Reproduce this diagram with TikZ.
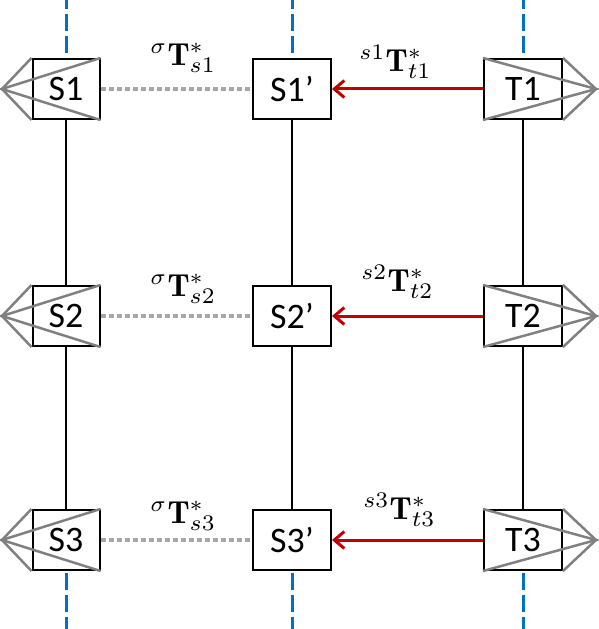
\documentclass[tikz,border=0pt]{standalone}
\usepackage{fontspec}
\usepackage{amsmath, amssymb}
\usepackage{graphicx}
\usepackage{xcolor}
\newfontfamily\boxfont{Carlito}
\usetikzlibrary{arrows.meta, positioning}
\definecolor{axisBlue}{RGB}{0,112,192}
\definecolor{mapRed}{RGB}{192,0,0}
\definecolor{fanGray}{RGB}{128,128,128}
\definecolor{gapGray}{RGB}{166,166,166}
\newcommand{\tmap}[3]{\scalebox{3.2}{$^{#1}\mathbf{T}^{*}_{#2#3}$}}
\tikzset{
    sBox/.style={rectangle, draw=black, line width=2bp, inner sep=0pt, minimum width=67bp, minimum height=60bp, font=\boxfont\fontsize{36}{40}\selectfont},
    wBox/.style={sBox, minimum width=78bp},
    fanLine/.style={draw=fanGray, line width=2.5bp},
    linkLine/.style={draw=black, line width=2.4bp},
    gapLine/.style={draw=gapGray, line width=4bp, dash pattern=on 5bp off 3bp},
    mapArrow/.style={-{Straight Barb[length=10bp, width=17bp, line width=3bp]}, draw=mapRed, line width=3bp},
    axisLine/.style={draw=axisBlue, line width=3bp, dash pattern=on 17bp off 5bp},
    tLabel/.style={inner sep=0pt}
}

\begin{document}
\begin{tikzpicture}[x=1bp, y=-1bp]
    \useasboundingbox (0,0) rectangle (599,629);
    % --- Row 1 ---
    \node[sBox] (S1) at (66,89) {S1};
    \node[wBox] (S1p) at (292,89) {S1’};
    \node[wBox] (T1) at (523,89) {T1};
    \coordinate (aS1) at (2,89); \coordinate (aT1) at (596,89);
    \draw[fanLine] (S1.north west)--(aS1)--(S1.south west);
    \draw[fanLine] (S1.north east)--(aS1)--(S1.south east);
    \draw[fanLine] (T1.north west)--(aT1)--(T1.south west);
    \draw[fanLine] (T1.north east)--(aT1)--(T1.south east);
    \draw[gapLine] (S1.east)--(S1p.west) node[tLabel, midway, xshift=7bp, yshift=31bp]{\tmap{\sigma}{s}{1}};
    \draw[mapArrow] (T1.west)--(S1p.east) node[tLabel, midway, xshift=-12bp, yshift=27bp]{\tmap{s1}{t}{1}};
    % --- Row 2 ---
    \node[sBox] (S2) at (66,316) {S2};
    \node[wBox] (S2p) at (292,316) {S2’};
    \node[wBox] (T2) at (523,316) {T2};
    \coordinate (aS2) at (2,316); \coordinate (aT2) at (596,316);
    \draw[fanLine] (S2.north west)--(aS2)--(S2.south west);
    \draw[fanLine] (S2.north east)--(aS2)--(S2.south east);
    \draw[fanLine] (T2.north west)--(aT2)--(T2.south west);
    \draw[fanLine] (T2.north east)--(aT2)--(T2.south east);
    \draw[gapLine] (S2.east)--(S2p.west) node[tLabel, midway, xshift=7bp, yshift=27bp]{\tmap{\sigma}{s}{2}};
    \draw[mapArrow] (T2.west)--(S2p.east) node[tLabel, midway, xshift=-10bp, yshift=34bp]{\tmap{s2}{t}{2}};
    % --- Row 3 ---
    \node[sBox] (S3) at (66,540) {S3};
    \node[wBox] (S3p) at (292,540) {S3’};
    \node[wBox] (T3) at (523,540) {T3};
    \coordinate (aS3) at (2,540); \coordinate (aT3) at (596,540);
    \draw[fanLine] (S3.north west)--(aS3)--(S3.south west);
    \draw[fanLine] (S3.north east)--(aS3)--(S3.south east);
    \draw[fanLine] (T3.north west)--(aT3)--(T3.south west);
    \draw[fanLine] (T3.north east)--(aT3)--(T3.south east);
    \draw[gapLine] (S3.east)--(S3p.west) node[tLabel, midway, xshift=7bp, yshift=24bp]{\tmap{\sigma}{s}{3}};
    \draw[mapArrow] (T3.west)--(S3p.east) node[tLabel, midway, xshift=-8bp, yshift=30bp]{\tmap{s3}{t}{3}};
    % --- columns ---
    \draw[linkLine] (S1)--(S2); \draw[linkLine] (S2)--(S3);
    \draw[linkLine] (S1p)--(S2p); \draw[linkLine] (S2p)--(S3p);
    \draw[linkLine] (T1)--(T2); \draw[linkLine] (T2)--(T3);
    \coordinate (topS) at (66,0); \coordinate (topSp) at (292,0); \coordinate (topT) at (523,0);
    \coordinate (botS) at (66,629); \coordinate (botSp) at (292,629); \coordinate (botT) at (523,629);
    \draw[axisLine, dash phase=17bp] (S1)--(topS);
    \draw[axisLine, dash phase=17bp] (S1p)--(topSp);
    \draw[axisLine, dash phase=17bp] (T1)--(topT);
    \draw[axisLine, dash phase=-2bp] (S3)--(botS);
    \draw[axisLine, dash phase=-2bp] (S3p)--(botSp);
    \draw[axisLine, dash phase=-2bp] (T3)--(botT);
\end{tikzpicture}
\end{document}
